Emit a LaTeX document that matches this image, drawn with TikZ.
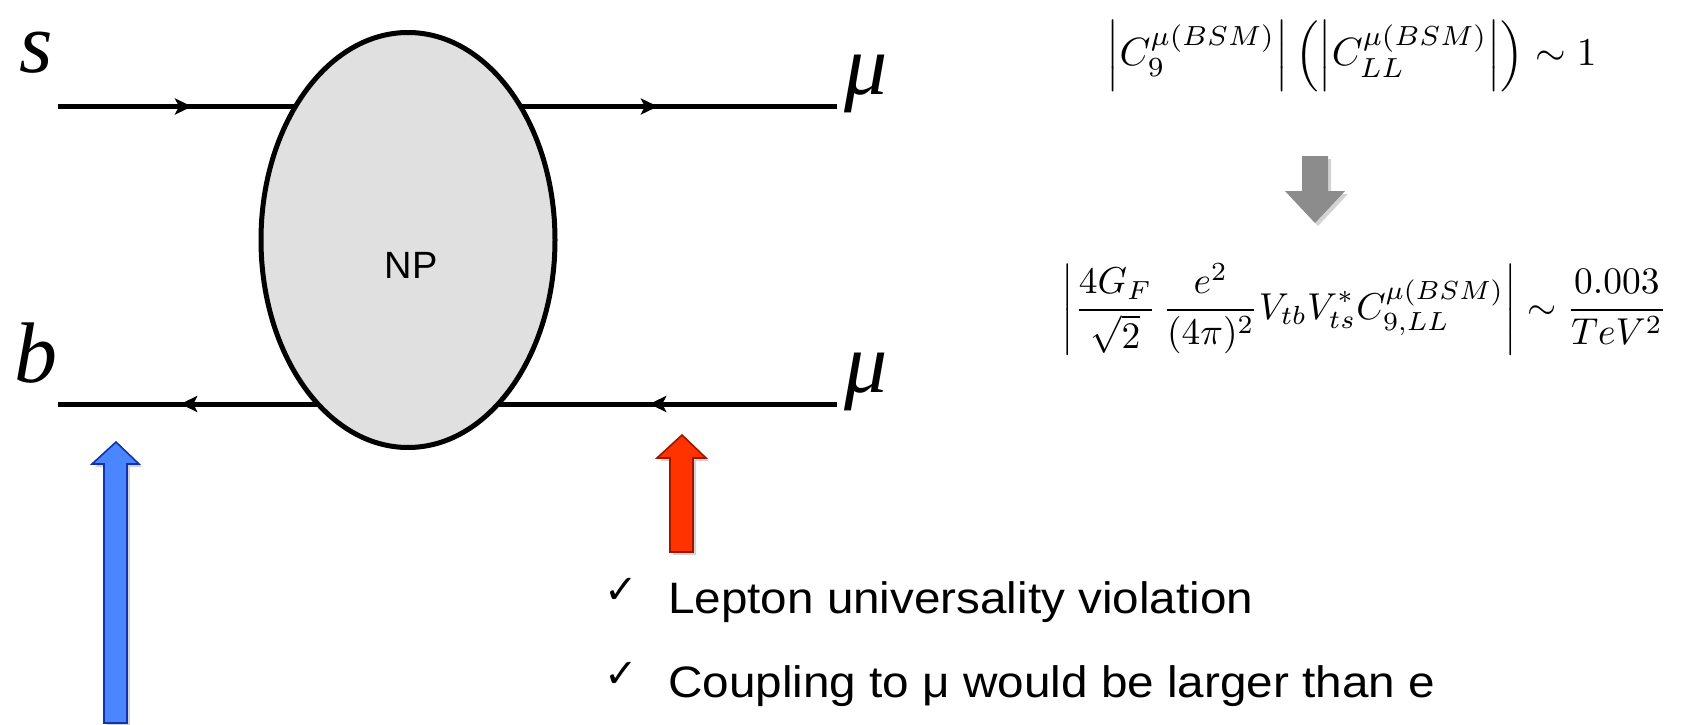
\documentclass[tikz,border=0pt]{standalone}
\usepackage{graphicx}
\usepackage{fontspec}
\setmainfont{Liberation Sans}
\newfontfamily\ckfont{DejaVu Sans}
\newfontfamily\timesfont{Liberation Serif}
\usetikzlibrary{arrows.meta,decorations.markings,shadows,shapes.geometric}
\definecolor{npfill}{RGB}{224,224,224}
\definecolor{bluefill}{RGB}{74,134,255}
\definecolor{blueedge}{RGB}{20,50,170}
\definecolor{redfill}{RGB}{255,51,0}
\definecolor{rededge}{RGB}{160,20,0}
\definecolor{grayfill}{RGB}{140,140,140}
\tikzset{
  fa/.tip={Stealth[length=17pt,width=16pt,inset=4pt]},
  fermion/.style={line width=5pt},
  blob/.style={ellipse,draw,line width=5pt,fill=npfill,inner sep=0pt,minimum width=294pt,minimum height=415pt},
  plabel/.style={inner sep=0pt,anchor=base,font=\timesfont\itshape\fontsize{86}{86}\selectfont},
  blockshadow/.style={drop shadow={opacity=0.35,shadow xshift=3pt,shadow yshift=-3pt}},
  bluearrow/.style={fill=bluefill,draw=blueedge,line width=1.6pt,line join=miter,blockshadow},
  redarrow/.style={fill=redfill,draw=rededge,line width=1.6pt,line join=miter,blockshadow},
  grayarrow/.style={fill=grayfill,blockshadow},
  cklabel/.style={inner sep=0pt,anchor=center,font=\ckfont\fontsize{40}{40}\selectfont},
  bullettext/.style={inner sep=0pt,anchor=base west,font=\fontsize{44}{44}\selectfont},
}
\begin{document}
\begin{tikzpicture}[x=1pt,y=-1pt]
\useasboundingbox (0,0) rectangle (1687,725);
% fermion lines
\coordinate (sL) at (58,106.5);
\coordinate (muTR) at (837,106.5);
\coordinate (bL) at (58,404);
\coordinate (muBR) at (837,404);
\draw[fermion,postaction=decorate,decoration={markings,
  mark=at position 0.172 with {\arrow{fa}},
  mark=at position 0.77 with {\arrow{fa}}}] (sL) -- (muTR);
\draw[fermion,postaction=decorate,decoration={markings,
  mark=at position 0.241 with {\arrow{fa}},
  mark=at position 0.843 with {\arrow{fa}}}] (muBR) -- (bL);
% blob
\node[blob] (np) at (408,240) {};
\node[inner sep=0pt,font=\fontsize{38}{38}\selectfont] (nplabel) at (411,265) {NP};
% particle labels
\node[plabel] (s) at (36,73) {s};
\node[plabel] (b) at (36,382) {b};
\node[plabel] (mu1) at (866,95) {μ};
\node[plabel] (mu2) at (866,392) {μ};
% block arrows
\path[bluearrow] (104,723) -- (104,464) -- (92,464) -- (116,442) -- (139,464) -- (127,464) -- (127,723) -- cycle;
\path[redarrow] (670,552) -- (670,458) -- (657,458) -- (682,435) -- (706,458) -- (693,458) -- (693,552) -- cycle;
\path[grayarrow] (1302,156) -- (1328,156) -- (1328,191) -- (1345,191) -- (1315,223) -- (1285,191) -- (1302,191) -- cycle;
% formulas
\node[inner sep=0pt] (f1) at (1351.5,56) {\resizebox{490pt}{!}{$\left|C_9^{\mu(BSM)}\right|\left(\left|C_{LL}^{\mu(BSM)}\right|\right)\sim 1$}};
\node[inner sep=0pt] (f2) at (1364.5,309) {\resizebox{605pt}{!}{$\displaystyle\left|\frac{4G_F}{\sqrt{2}}\,\frac{e^2}{(4\pi)^2}V_{tb}V_{ts}^{*}C_{9,LL}^{\mu(BSM)}\right|\sim\frac{0.003}{TeV^2}$}};
% bullet texts
\node[cklabel] (ck1) at (621,591) {✓};
\node[bullettext] (t1) at (668,613) {\resizebox{585pt}{\height}{Lepton universality violation}};
\node[cklabel] (ck2) at (621,675) {✓};
\node[bullettext] (t2) at (668,697) {\resizebox{767pt}{\height}{Coupling to μ would be larger than e}};
\end{tikzpicture}
\end{document}
